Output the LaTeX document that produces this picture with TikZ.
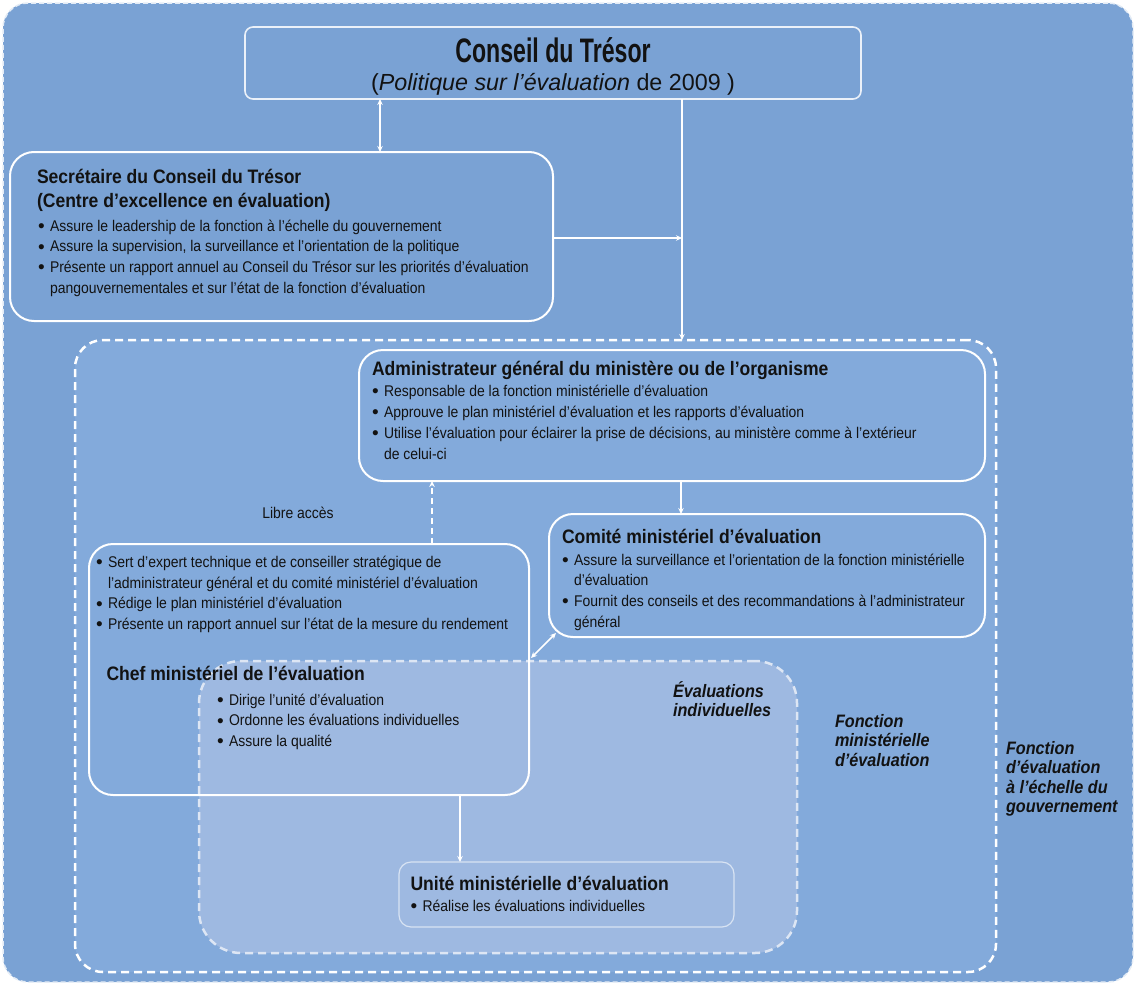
\documentclass[tikz,border=0pt]{standalone}
\usepackage{fontspec}
\setmainfont{Liberation Sans}[FakeStretch=0.9]
\newfontfamily\titlefont{Liberation Sans}[FakeStretch=0.68]
\newfontfamily\subfont{Liberation Sans}
\usetikzlibrary{arrows.meta}
\definecolor{bgOuter}{RGB}{122,162,212}
\definecolor{bgInner}{RGB}{131,170,219}
\definecolor{bgEval}{RGB}{158,185,225}
\definecolor{ink}{RGB}{18,18,18}
\newcommand\lns[1]{\begin{tabular}[t]{@{}l@{}}#1\end{tabular}}
\newcommand\bu{\makebox[12pt][l]{\raisebox{-1.2pt}{\subfont\fontsize{19}{19}\selectfont•}}}
\newcommand\ind{\hspace*{12pt}}
\newcommand\bodyf{\fontsize{15.5}{20.8}\selectfont}
\newcommand\headf{\fontsize{19.5}{24}\selectfont\bfseries}
\newcommand\lblf{\fontsize{18}{19.5}\selectfont\bfseries\itshape}
\begin{document}
\begin{tikzpicture}[x=1pt,y=-1pt,
  box/.style={draw=white, line width=2pt, rounded corners=24pt, inner sep=0pt, outer sep=0pt, anchor=north west},
  region/.style={draw=white, line width=2.5pt, dash pattern=on 8pt off 5pt, inner sep=0pt, outer sep=0pt, anchor=north west},
  txt/.style={inner sep=0pt, outer sep=0pt, text=ink, anchor=base west},
  arr/.style={draw=white, line width=1.5pt, -{Stealth[length=6pt,width=5.5pt]}},
  darr/.style={draw=white, line width=1.5pt, {Stealth[length=6pt,width=5.5pt]}-{Stealth[length=6pt,width=5.5pt]}},
]
\fill[white] (0,0) rectangle (1135,985);
\useasboundingbox (0,0) rectangle (1135,985);
% backgrounds / regions
\node[anchor=north west, inner sep=0pt, outer sep=0pt, fill=bgOuter, draw=white!80!bgOuter, line width=1.5pt, dash pattern=on 5pt off 3pt, rounded corners=25pt, minimum width=1130pt, minimum height=979pt] (outer) at (3,3) {};
\node[region, fill=bgInner, rounded corners=28pt, minimum width=921pt, minimum height=632pt] (fmin) at (75,340) {};
\node[region, fill=bgEval, draw=white!65!bgEval, rounded corners=42pt, minimum width=598pt, minimum height=292pt] (eval) at (199,661) {};
% boxes
\node[box, draw=white!85!bgOuter, line width=1.6pt, rounded corners=8pt, minimum width=616pt, minimum height=72pt] (cons) at (245,27) {};
\node[box, minimum width=543pt, minimum height=169pt] (sec) at (10,152) {};
\node[box, minimum width=626pt, minimum height=131pt] (adm) at (359,350) {};
\node[box, minimum width=436pt, minimum height=123pt] (cmt) at (549,514) {};
\node[box, minimum width=440pt, minimum height=251pt] (chef) at (89,544) {};
\node[box, draw=white!60!bgEval, line width=1.2pt, rounded corners=12pt, minimum width=335pt, minimum height=65pt] (uni) at (399,862) {};
% texts
\node[txt, anchor=base, font=\titlefont\bfseries\fontsize{34}{34}\selectfont] (ttl) at (553,62.5) {Conseil du Trésor};
\node[txt, anchor=base, font=\subfont\fontsize{23.3}{24}\selectfont] (sub) at (553,90) {(\textit{Politique sur l’évaluation} de 2009 )};
\node[txt, font=\headf] (secH) at (37,183) {\lns{Secrétaire du Conseil du Trésor\\(Centre d’excellence en évaluation)}};
\node[txt, font=\bodyf] (secB) at (38,231) {\lns{\bu Assure le leadership de la fonction à l’échelle du gouvernement\\
\bu Assure la supervision, la surveillance et l’orientation de la politique\\
\bu Présente un rapport annuel au Conseil du Trésor sur les priorités d’évaluation\\
\ind pangouvernementales et sur l’état de la fonction d’évaluation}};
\node[txt, font=\headf] (admH) at (372,375) {Administrateur général du ministère ou de l’organisme};
\node[txt, font=\bodyf] (admB) at (372,396.7) {\lns{\bu Responsable de la fonction ministérielle d’évaluation\\
\bu Approuve le plan ministériel d’évaluation et les rapports d’évaluation\\
\bu Utilise l’évaluation pour éclairer la prise de décisions, au ministère comme à l’extérieur\\
\ind de celui-ci}};
\node[txt, font=\headf] (cmtH) at (562,543.3) {Comité ministériel d’évaluation};
\node[txt, font=\bodyf] (cmtB) at (562,565) {\lns{\bu Assure la surveillance et l’orientation de la fonction ministérielle\\
\ind d’évaluation\\
\bu Fournit des conseils et des recommandations à l’administrateur\\
\ind général}};
\node[txt, font=\bodyf] (chefB) at (96,567.3) {\lns{\bu Sert d’expert technique et de conseiller stratégique de\\
\ind l’administrateur général et du comité ministériel d’évaluation\\
\bu Rédige le plan ministériel d’évaluation\\
\bu Présente un rapport annuel sur l’état de la mesure du rendement}};
\node[txt, font=\headf] (chefH) at (106.5,680) {Chef ministériel de l’évaluation};
\node[txt, font=\bodyf] (chefB2) at (217,705) {\lns{\bu Dirige l’unité d’évaluation\\
\bu Ordonne les évaluations individuelles\\
\bu Assure la qualité}};
\node[txt, font=\headf] (uniH) at (410.5,890.7) {Unité ministérielle d’évaluation};
\node[txt, font=\bodyf] (uniB) at (410.5,911.7) {\bu Réalise les évaluations individuelles};
\node[txt, anchor=base, font=\bodyf] (libre) at (298,518) {Libre accès};
\node[txt, font=\lblf] (evalL) at (673,697) {\lns{Évaluations\\individuelles}};
\node[txt, font=\lblf] (fminL) at (835,727) {\lns{Fonction\\ministérielle\\d’évaluation}};
\node[txt, font=\lblf] (fgovL) at (1006,754) {\lns{Fonction\\d’évaluation\\à l’échelle du\\gouvernement}};
% connectors
\coordinate (j) at (682,238);
\draw[darr] ([xshift=135pt]cons.south west) -- ([xshift=370pt]sec.north west);
\draw[arr] ([xshift=437pt]cons.south west) -- ([xshift=607pt]fmin.north west);
\draw[arr] (j -| sec.east) -- (j);
\draw[arr] ([xshift=322pt]adm.south west) -- ([xshift=132pt]cmt.north west);
\draw[arr, dash pattern=on 6pt off 4pt] ([xshift=343pt]chef.north west) -- ([xshift=73pt]adm.south west);
\draw[darr] ([shift={(2pt,-114pt)}]chef.north east) -- ([shift={(7pt,4pt)}]cmt.south west);
\draw[arr] ([xshift=371pt]chef.south west) -- ([xshift=61pt]uni.north west);
\end{tikzpicture}
\end{document}
